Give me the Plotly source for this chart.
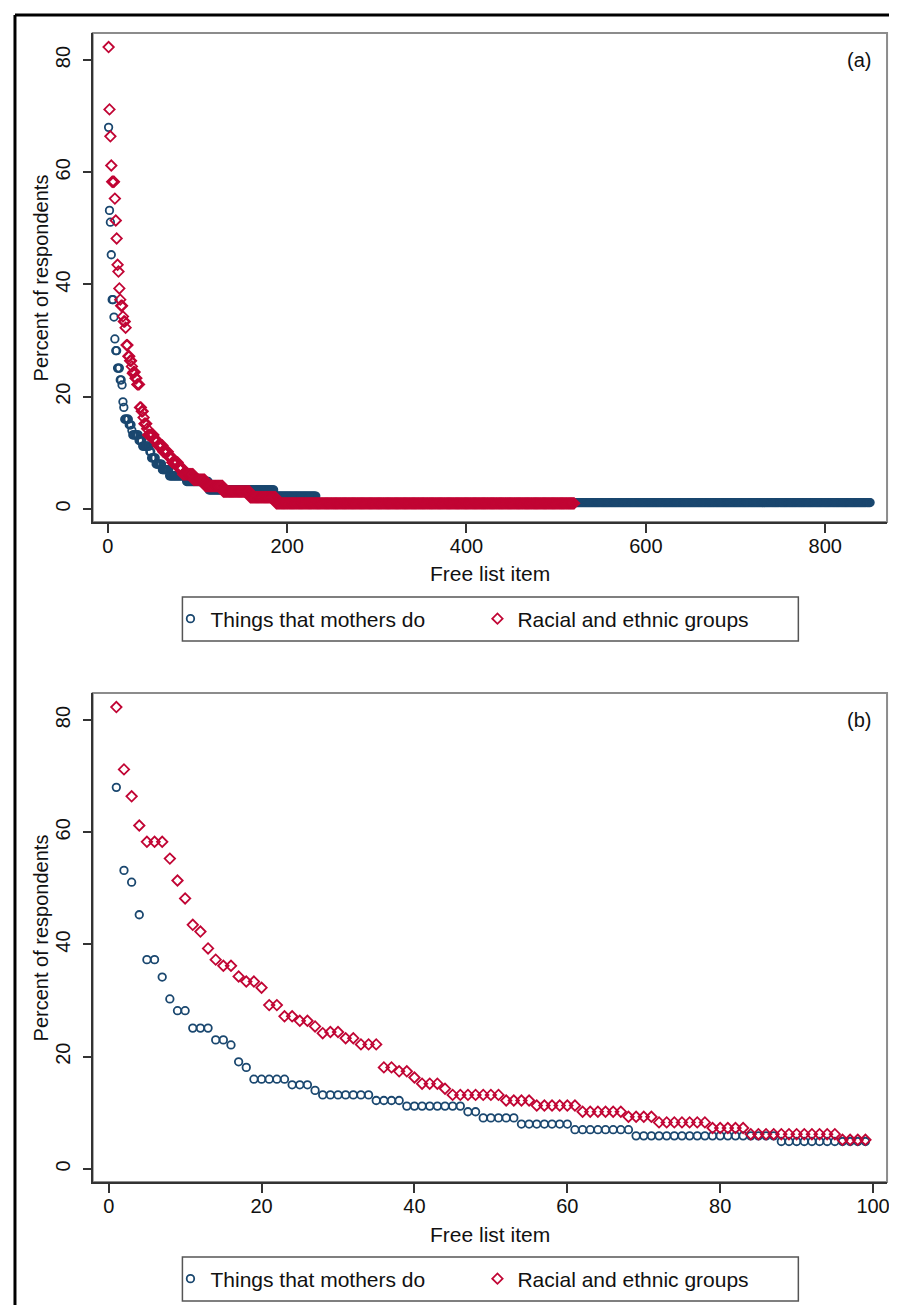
import plotly.graph_objects as go

W, H = 897, 1305

# ---------------- data ----------------
# percent of respondents for free-list items 1..99 (shown in panel b)
mothers_first99 = [
    68.0, 53.2, 51.1, 45.3, 37.3, 37.3, 34.2, 30.3, 28.2, 28.2,
    25.1, 25.1, 25.1, 23.0, 23.0, 22.1, 19.1, 18.1, 16.0, 16.0,
    16.0, 16.0, 16.0, 15.0, 15.0, 15.0, 14.0, 13.2, 13.2, 13.2,
    13.2, 13.2, 13.2, 13.2, 12.2, 12.2, 12.2, 12.2, 11.2, 11.2,
    11.2, 11.2, 11.2, 11.2, 11.2, 11.2, 10.2, 10.2, 9.1, 9.1,
    9.1, 9.1, 9.1, 8.0, 8.0, 8.0, 8.0, 8.0, 8.0, 8.0,
    7.0, 7.0, 7.0, 7.0, 7.0, 7.0, 7.0, 7.0, 5.9, 5.9,
    5.9, 5.9, 5.9, 5.9, 5.9, 5.9, 5.9, 5.9, 5.9, 5.9,
    5.9, 5.9, 5.9, 5.9, 5.9, 5.9, 5.9, 4.9, 4.9, 4.9,
    4.9, 4.9, 4.9, 4.9, 4.9, 4.9, 4.9, 4.9, 4.9,
]
ethnic_first99 = [
    82.3, 71.2, 66.4, 61.2, 58.3, 58.3, 58.3, 55.3, 51.4, 48.2,
    43.5, 42.3, 39.3, 37.3, 36.2, 36.2, 34.3, 33.4, 33.4, 32.3,
    29.2, 29.2, 27.2, 27.2, 26.4, 26.4, 25.4, 24.2, 24.4, 24.4,
    23.3, 23.3, 22.2, 22.2, 22.2, 18.1, 18.1, 17.4, 17.4, 16.3,
    15.2, 15.2, 15.2, 14.3, 13.2, 13.2, 13.2, 13.2, 13.2, 13.2,
    13.2, 12.2, 12.2, 12.2, 12.2, 11.3, 11.3, 11.3, 11.3, 11.3,
    11.3, 10.2, 10.2, 10.2, 10.2, 10.2, 10.2, 9.3, 9.3, 9.3,
    9.3, 8.3, 8.3, 8.3, 8.3, 8.3, 8.3, 8.3, 7.3, 7.3,
    7.3, 7.3, 7.3, 6.2, 6.2, 6.2, 6.2, 6.2, 6.2, 6.2,
    6.2, 6.2, 6.2, 6.2, 6.2, 5.2, 5.2, 5.2, 5.2,
]
# flat runs of the long tail (items 100 onward, panel a): level and run length
mothers_tail_levels = [4.9, 3.4, 2.3, 1.15]
mothers_tail_counts = [13, 73, 47, 618]      # ends at item 850
ethnic_tail_levels = [5.2, 4.1, 3.1, 2.1, 1.0]
ethnic_tail_counts = [9, 20, 30, 29, 333]    # ends at item 520

series_names = ["Things that mothers do", "Racial and ethnic groups"]
xticks_a = [0, 200, 400, 600, 800]
xticks_b = [0, 20, 40, 60, 80, 100]
yticks = [0, 20, 40, 60, 80]


def expand(first, levels, counts):
    vals = list(first)
    for v, c in zip(levels, counts):
        vals.extend([v] * c)
    return vals


mothers_all = expand(mothers_first99, mothers_tail_levels, mothers_tail_counts)
ethnic_all = expand(ethnic_first99, ethnic_tail_levels, ethnic_tail_counts)

# ---------------- style ----------------
BLUE = "#1a476f"
RED = "#c10534"
FONT = "Liberation Sans, Arial, Helvetica, sans-serif"
TXT = "#111111"


def px_x(p):
    return p / W


def px_y(p):
    return 1 - p / H


fig = go.Figure()


def add_panel(xa, ya, legend, vals_m, vals_e):
    fig.add_trace(go.Scatter(
        x=list(range(1, len(vals_m) + 1)), y=vals_m, mode="markers",
        name=series_names[0], xaxis=xa, yaxis=ya, legend=legend,
        legendwidth=262,
        marker=dict(symbol="circle-open", size=7.5, color=BLUE,
                    line=dict(width=1.8, color=BLUE)),
        hoverinfo="skip"))
    fig.add_trace(go.Scatter(
        x=list(range(1, len(vals_e) + 1)), y=vals_e, mode="markers",
        name=series_names[1], xaxis=xa, yaxis=ya, legend=legend,
        legendwidth=262,
        marker=dict(symbol="diamond-open", size=8, color=RED,
                    line=dict(width=1.8, color=RED)),
        hoverinfo="skip"))


add_panel("x", "y", "legend", mothers_all, ethnic_all)
add_panel("x2", "y2", "legend2", mothers_first99, ethnic_first99)

panel_offsets = [0, 660]
frame_left, frame_right = 85, 882
frame_top, frame_bottom = 25, 514

axis_common = dict(
    showline=True, linecolor="#333333", linewidth=2,
    ticks="outside", tickcolor="#333333", tickwidth=1.5,
    showgrid=False, zeroline=False,
    tickfont=dict(family=FONT, size=20, color=TXT),
)

for i, off in enumerate(panel_offsets):
    sfx = "" if i == 0 else "2"
    xdom = [px_x(frame_left), px_x(frame_right)]
    ydom = [px_y(frame_bottom + off), px_y(frame_top + off)]
    xr = [-16.7, 868.9] if i == 0 else [-2.09, 101.83]
    fig.update_layout(**{
        "xaxis" + sfx: dict(axis_common, domain=xdom, range=xr,
                            anchor="y" + sfx,
                            tickvals=xticks_a if i == 0 else xticks_b,
                            ticklen=9, ticklabelstandoff=-4),
        "yaxis" + sfx: dict(axis_common, domain=ydom, range=[-2.32, 84.81],
                            anchor="x" + sfx, tickvals=yticks,
                            ticklen=8, tickangle=-90, ticklabelstandoff=5),
    })
    # plot-region frame (top/right appear lighter grey)
    fig.add_shape(type="rect", xref="x%s domain" % sfx, yref="y%s domain" % sfx,
                  x0=0, x1=1, y0=0, y1=1, layer="below",
                  line=dict(color="#8c8c8c", width=2))
    # legend box
    fig.add_shape(type="rect", xref="paper", yref="paper",
                  x0=px_x(175), x1=px_x(793),
                  y0=px_y(633 + off), y1=px_y(589 + off),
                  line=dict(color="#555555", width=1.5))
    # panel tag
    fig.add_annotation(text="(a)" if i == 0 else "(b)", xref="paper", yref="paper",
                       x=px_x(868), y=px_y(52 + off), xanchor="right", yanchor="middle",
                       showarrow=False, font=dict(family=FONT, size=20, color=TXT))
    # axis titles
    fig.add_annotation(text="Percent of respondents", xref="paper", yref="paper",
                       x=px_x(33), y=px_y((frame_top + frame_bottom) / 2 + off),
                       textangle=-90, xanchor="center", yanchor="middle",
                       showarrow=False, font=dict(family=FONT, size=20, color=TXT))
    fig.add_annotation(text="Free list item", xref="paper", yref="paper",
                       x=px_x((frame_left + frame_right) / 2), y=px_y(566 + off),
                       xanchor="center", yanchor="middle",
                       showarrow=False, font=dict(family=FONT, size=21, color=TXT))
    leg = dict(orientation="h", x=px_x(163), xanchor="left",
               y=px_y(611 + off), yanchor="middle",
               bgcolor="rgba(0,0,0,0)", borderwidth=0,
               font=dict(family=FONT, size=21, color=TXT),
               itemwidth=30, traceorder="normal")
    fig.update_layout(**{"legend" if i == 0 else "legend2": leg})

# outer black border (top and left)
fig.add_shape(type="line", xref="paper", yref="paper",
              x0=px_x(7), x1=1, y0=px_y(7), y1=px_y(7),
              line=dict(color="black", width=3))
fig.add_shape(type="line", xref="paper", yref="paper",
              x0=px_x(7), x1=px_x(7), y0=px_y(7), y1=0,
              line=dict(color="black", width=3))

fig.update_layout(
    width=W, height=H, margin=dict(l=0, r=0, t=0, b=0),
    paper_bgcolor="white", plot_bgcolor="white",
    showlegend=True,
    font=dict(family=FONT, color=TXT),
)

fig.write_html("out.html")
